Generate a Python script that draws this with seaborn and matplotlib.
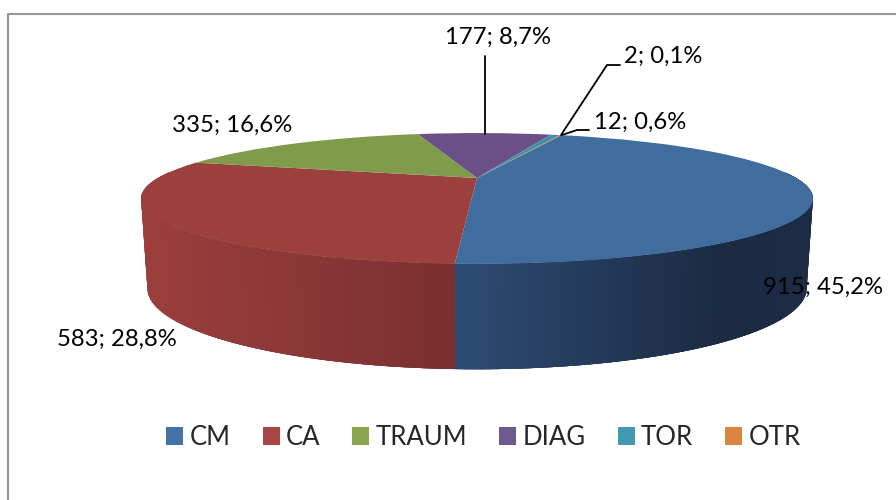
import numpy as np
import matplotlib
matplotlib.use("Agg")
import matplotlib.pyplot as plt
from matplotlib.patches import Patch
from matplotlib.transforms import Transform
import seaborn as sns

categories = ["CM", "CA", "TRAUM", "DIAG", "TOR", "OTR"]
counts = [915, 583, 335, 177, 12, 2]
percents = ["45,2%", "28,8%", "16,6%", "8,7%", "0,6%", "0,1%"]

top_colors = ["#416C9E", "#9C403E", "#809B4B", "#6B5087", "#3C91AA", "#C97A38"]
legend_colors = ["#4572A7", "#AA4643", "#89A54E", "#71588F", "#4198AF", "#DB843D"]

sns.set_theme(style="white")
plt.rcParams["font.family"] = ["Lato", "DejaVu Sans"]
FS = 17.2
LEGEND_FS = 18.5


class Perspective(Transform):
    input_dims = output_dims = 2
    is_separable = False
    has_inverse = False

    def __init__(self, a, c, k, x0, y0):
        super().__init__()
        self.a, self.c, self.k, self.x0, self.y0 = a, c, k, x0, y0

    def transform_non_affine(self, values):
        values = np.asarray(values, dtype=float)
        u, v = values[:, 0], values[:, 1]
        s = 1 + self.k * v
        return np.column_stack((self.x0 + self.a * u / s, self.y0 - self.c * v / s))


top_disc = Perspective(319, 59, 0.313, 477, 178)
bottom_disc = Perspective(313, 73, 0.313, 477, 263)

fig = plt.figure(figsize=(8.96, 5), dpi=100, facecolor="white")
ax = fig.add_axes([0, 0, 1, 1])

wedges, _ = ax.pie(counts, colors=sns.color_palette(top_colors), startangle=70,
                   counterclock=False, radius=1, wedgeprops=dict(linewidth=0))
ax.set_aspect("auto")
ax.set_xlim(0, 896)
ax.set_ylim(500, 0)
ax.set_axis_off()
ax.set_frame_on(False)

for w in wedges:
    w.set_transform(top_disc + ax.transData)
    w.set_zorder(5)
    w.set_antialiased(True)

# side wall of the two front slices, shaded along the rim
shade_t = {0: [0, 0.8, 1], 1: [0, 1]}
shade_c = {0: [(46, 76, 116), (26, 42, 66), (28, 44, 68)],
           1: [(122, 47, 47), (158, 64, 62)]}


def rim(theta_deg):
    r = np.radians(theta_deg)
    pts = np.column_stack((np.cos(r), np.sin(r)))
    return top_disc.transform(pts), bottom_disc.transform(pts)


for idx in (0, 1):
    w = wedges[idx]
    angles = np.arange(w.theta1, w.theta2 + 0.5, 0.5)
    angles = angles[np.sin(np.radians(angles)) < 0.1]
    upper, lower = rim(angles)
    base = np.vstack((upper, lower[::-1]))
    mean_col = np.mean(shade_c[idx], axis=0) / 255
    ax.fill(base[:, 0], base[:, 1], color=mean_col, lw=0, zorder=1.5)
    for th in angles[:-1]:
        pair = np.clip([th - 0.4, th + 0.9], w.theta1, w.theta2)
        up, lo = rim(pair)
        poly = np.vstack((up, lo[::-1]))
        t = abs(np.mean(up[:, 0]) - 456) / 340
        col = [np.interp(t, shade_t[idx], [c[i] for c in shade_c[idx]]) / 255 for i in range(3)]
        ax.fill(poly[:, 0], poly[:, 1], color=col, lw=0, zorder=2)

# chart border
ax.plot([7.5, 7.5, 900], [505, 14, 14], color="#969696", lw=1.5, zorder=1, clip_on=True)

# data labels
labels = [f"{n}; {p}" for n, p in zip(counts, percents)]
label_xy = [(823, 287), (117, 339), (232, 125), (498, 37), (640, 122), (663, 56)]
for text, (x, y) in zip(labels, label_xy):
    ax.text(x, y, text, ha="center", va="center", fontsize=FS, color="black", zorder=8)

# leader lines
for xs, ys in [([485, 485], [134, 56]),
               ([561, 607, 620], [135, 65, 65]),
               ([562, 577, 589], [135, 130, 130])]:
    ax.plot(xs, ys, color="black", lw=1.3, zorder=7, solid_joinstyle="miter")

handles = [Patch(facecolor=c, edgecolor="none") for c in legend_colors]
ax.legend(handles, categories, ncol=6, loc="center", bbox_to_anchor=(483.5, 437.5),
          bbox_transform=ax.transData, frameon=False, fontsize=LEGEND_FS, handlelength=0.66,
          handleheight=0.66, handletextpad=0.25, columnspacing=1.24, borderpad=0)

fig.savefig("out.png", dpi=100)
